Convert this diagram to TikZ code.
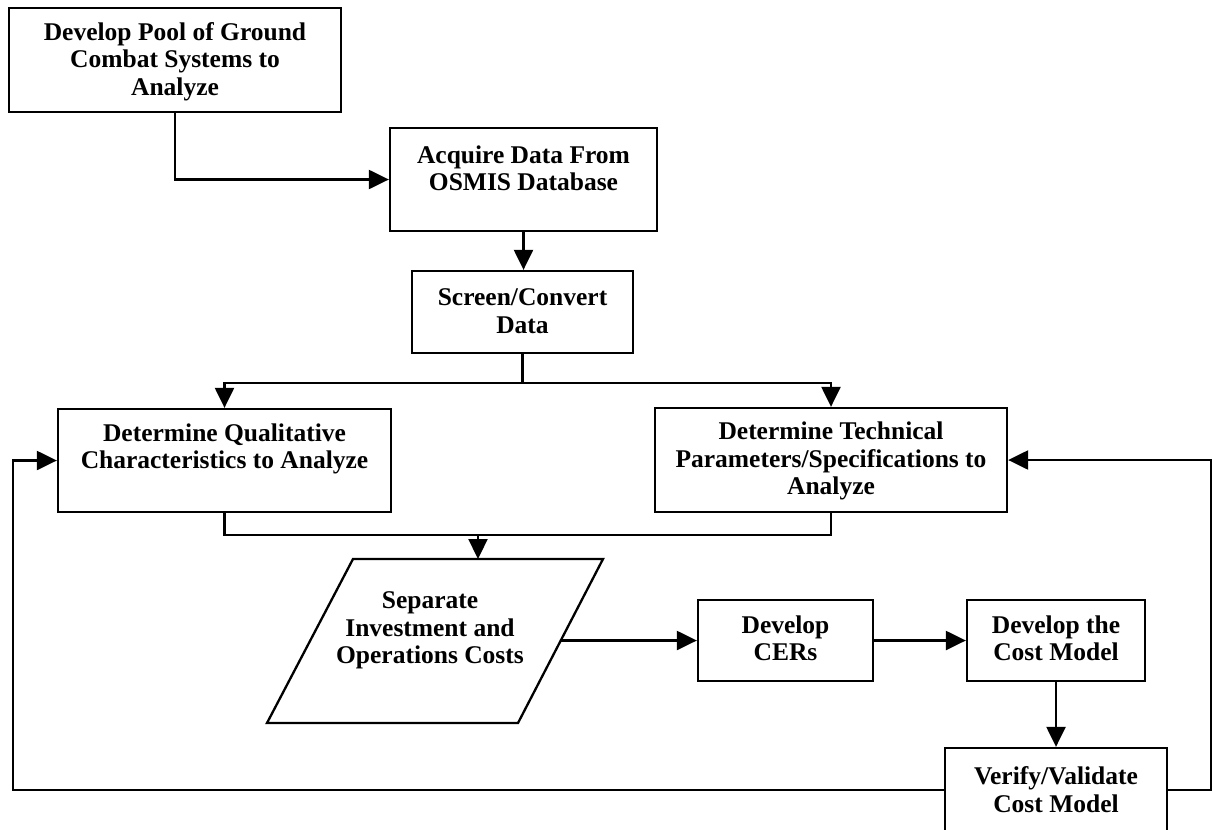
\documentclass[tikz,border=0pt]{standalone}
\usepackage{fontspec}
\setmainfont{Liberation Serif}
\usetikzlibrary{arrows.meta}
\tikzset{
  box/.style={draw=black, line width=2.3pt, rectangle, inner sep=0pt, fill=white},
  txt/.style={align=center, font=\bfseries\fontsize{25.5}{27.5}\selectfont, inner sep=0pt},
  line/.style={draw=black, line width=2.3pt},
  arr/.style={line, -{Triangle[length=20pt,width=19pt]}}
}
\begin{document}
\begin{tikzpicture}[x=1pt,y=-1pt]
\clip (0,0) rectangle (1213,830);
\fill[white] (0,0) rectangle (1213,830);

% boxes
\node[box, minimum width=332pt, minimum height=104pt] (b1) at (175,60) {};
\node[txt] (t1) at (175,61.5) {Develop Pool of Ground\\Combat Systems to\\Analyze};

\node[box, minimum width=267pt, minimum height=103pt] (b2) at (523.5,179.5) {};
\node[txt] (t2) at (523.5,168.5) {Acquire Data From\\OSMIS Database};

\node[box, minimum width=221pt, minimum height=82pt] (b3) at (522.5,312) {};
\node[txt] (t3) at (522.5,311) {Screen/Convert\\Data};

\node[box, minimum width=333pt, minimum height=103pt] (b4) at (224.5,460.5) {};
\node[txt] (t4) at (224.5,449) {Determine Qualitative\\Characteristics to Analyze};

\node[box, minimum width=352pt, minimum height=104pt] (b5) at (831,460) {};
\node[txt] (t5) at (831,461) {Determine Technical\\Parameters/Specifications to\\Analyze};

% parallelogram
\draw[line, fill=white] (353,559) coordinate (pTL) -- (603,559) coordinate (pTR)
  -- (518,723) coordinate (pBR) -- (267,723) coordinate (pBL) -- cycle;
\coordinate (septop) at (478,559);
\coordinate (sepR) at (561,640.5);
\node[txt] (sep) at (430,630.5) {Separate\\Investment and\\Operations Costs};

\node[box, minimum width=175pt, minimum height=81pt] (cer) at (785.5,640.5) {};
\node[txt] (t7) at (785.5,638.5) {Develop\\CERs};

\node[box, minimum width=178pt, minimum height=81pt] (cm) at (1056,640.5) {};
\node[txt] (t8) at (1056,638.5) {Develop the\\Cost Model};

\node[box, minimum width=222pt, minimum height=100pt] (ver) at (1056,798) {};
\node[txt] (t9) at (1056,789.5) {Verify/Validate\\Cost Model};

% connectors
\draw[arr] (b1.south) |- (b2.west);
\draw[arr] (b2.south) -- (b2.south |- b3.north);
\draw[line] (b3.south) -- ++(0,29) coordinate (br);
\draw[arr] (br) -| (b4.north);
\draw[arr] (br) -| (b5.north);

\coordinate (mg) at (478,535);
\draw[line] (b4.south) |- (b5.south |- mg) -- (b5.south);
\draw[arr] (mg) -- (septop);

\draw[arr] (sepR) -- (cer.west);
\draw[arr] (cer.east) -- (cm.west);
\draw[arr] (cm.south) -- (cm.south |- ver.north);

\coordinate (fbL) at (13,790);
\coordinate (fbR) at (1211,790);
\draw[arr] (ver.west |- fbL) -- (fbL) |- (b4.west);
\draw[arr] (ver.east |- fbR) -- (fbR) |- (b5.east);
\end{tikzpicture}
\end{document}
